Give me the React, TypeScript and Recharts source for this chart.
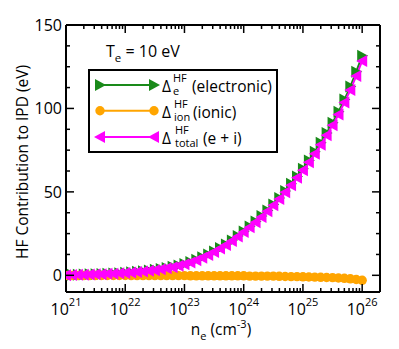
import { Legend, Line, LineChart, XAxis, YAxis } from 'recharts'

// log10 of electron density (cm^-3), one point every 0.1 decade
const logNe = [
  21.0, 21.1, 21.2, 21.3, 21.4, 21.5, 21.6, 21.7, 21.8, 21.9,
  22.0, 22.1, 22.2, 22.3, 22.4, 22.5, 22.6, 22.7, 22.8, 22.9,
  23.0, 23.1, 23.2, 23.3, 23.4, 23.5, 23.6, 23.7, 23.8, 23.9,
  24.0, 24.1, 24.2, 24.3, 24.4, 24.5, 24.6, 24.7, 24.8, 24.9,
  25.0, 25.1, 25.2, 25.3, 25.4, 25.5, 25.6, 25.7, 25.8, 25.9,
  26.0,
]

const electronic = [
  0.2, 0.3, 0.4, 0.5, 0.6, 0.7, 0.8, 1.0, 1.1, 1.3,
  1.5, 1.9, 2.2, 2.5, 2.9, 3.3, 3.8, 4.4, 5.1, 5.9,
  6.8, 8.0, 9.3, 10.8, 12.5, 14.3, 16.3, 18.5, 20.9, 23.5,
  26.3, 29.3, 32.3, 35.5, 38.9, 42.5, 46.4, 50.5, 54.8, 59.2,
  63.9, 68.8, 74.0, 79.5, 85.3, 91.4, 98.0, 105.3, 113.1, 122.0,
  131.5,
]

const ionic = [
  -0.1, -0.1, -0.1, -0.1, -0.1, -0.1, -0.1, -0.1, -0.1, -0.1,
  -0.1, -0.2, -0.2, -0.2, -0.2, -0.2, -0.2, -0.2, -0.2, -0.2,
  -0.2, -0.3, -0.3, -0.3, -0.3, -0.3, -0.3, -0.3, -0.3, -0.3,
  -0.3, -0.5, -0.5, -0.5, -0.5, -0.5, -0.6, -0.7, -0.8, -0.8,
  -0.9, -1.0, -1.1, -1.2, -1.3, -1.4, -1.6, -1.8, -2.1, -2.5,
  -3.0,
]

const total = [
  0.1, 0.2, 0.3, 0.4, 0.5, 0.6, 0.7, 0.9, 1.0, 1.2,
  1.4, 1.7, 2.0, 2.3, 2.7, 3.1, 3.6, 4.2, 4.9, 5.7,
  6.6, 7.7, 9.0, 10.5, 12.2, 14.0, 16.0, 18.2, 20.6, 23.2,
  26.0, 28.8, 31.8, 35.0, 38.4, 42.0, 45.8, 49.8, 54.0, 58.4,
  63.0, 67.8, 72.9, 78.3, 84.0, 90.0, 96.4, 103.5, 111.0, 119.5,
  128.5,
]

const xDecades = [21, 22, 23, 24, 25, 26]
const yMajor = [0, 50, 100, 150]
const yMinor = [12.5, 25, 37.5, 62.5, 75, 87.5, 112.5, 125, 137.5]

const GREEN = '#1a8a1a'
const ORANGE = '#ffa500'
const MAGENTA = '#ff00ff'
const FONT = '"Open Sans", sans-serif'

const data = logNe.map((p, i) => ({
  ne: Math.pow(10, p),
  e: electronic[i],
  ion: ionic[i],
  tot: total[i],
}))

const xMajor = xDecades.map((d) => Math.pow(10, d))
const xMinor = xDecades
  .slice(0, -1)
  .flatMap((d) => [2, 3, 4, 5, 6, 7, 8, 9].map((k) => k * Math.pow(10, d)))
const xTicks = [...xMajor, ...xMinor].sort((a, b) => a - b)
const yTicks = [...yMajor, ...yMinor].sort((a, b) => a - b)

const isMajorX = (v: number) => xMajor.some((m) => Math.abs(v - m) < m * 1e-6)

const MAJOR = 8
const MINOR = 4

function BottomTick({ x, y, payload }: any) {
  const v = payload.value
  if (!isMajorX(v)) {
    return <line x1={x} x2={x} y1={y} y2={y - MINOR} stroke="#000" strokeWidth={1.5} />
  }
  const exp = Math.round(Math.log10(v))
  return (
    <g>
      <line x1={x} x2={x} y1={y} y2={y - MAJOR} stroke="#000" strokeWidth={1.5} />
      <text x={x} y={y + 23} textAnchor="middle" fontSize={16} fontFamily={FONT} fill="#000">
        10
        <tspan dy={-9} fontSize={11}>
          {exp}
        </tspan>
      </text>
    </g>
  )
}

function TopTick({ x, y, payload }: any) {
  const len = isMajorX(payload.value) ? MAJOR : MINOR
  return <line x1={x} x2={x} y1={y} y2={y + len} stroke="#000" strokeWidth={1.5} />
}

function LeftTick({ x, y, payload }: any) {
  const v = payload.value
  const major = yMajor.includes(v)
  return (
    <g>
      <line x1={x} x2={x + (major ? MAJOR : MINOR)} y1={y} y2={y} stroke="#000" strokeWidth={1.5} />
      {major && (
        <text x={x - 4} y={y + 6} textAnchor="end" fontSize={16} fontFamily={FONT} fill="#000">
          {v}
        </text>
      )}
    </g>
  )
}

function RightTick({ x, y, payload }: any) {
  const len = yMajor.includes(payload.value) ? MAJOR : MINOR
  return <line x1={x} x2={x - len} y1={y} y2={y} stroke="#000" strokeWidth={1.5} />
}

function Marker({ shape, cx, cy, color }: { shape: string; cx: number; cy: number; color: string }) {
  if (shape === 'circle') return <circle cx={cx} cy={cy} r={4.7} fill={color} />
  if (shape === 'right')
    return <polygon points={`${cx + 6},${cy} ${cx - 5},${cy - 6} ${cx - 5},${cy + 6}`} fill={color} />
  return <polygon points={`${cx - 6},${cy} ${cx + 5},${cy - 6} ${cx + 5},${cy + 6}`} fill={color} />
}

const dotFor = (shape: string, color: string) => (p: any) => (
  <Marker key={`${shape}-${p.index}`} shape={shape} cx={p.cx} cy={p.cy} color={color} />
)

const legendRows = [
  { y: 16, shape: 'right', color: GREEN, sub: 'e', subX: 85, desc: '(electronic)', descX: 104 },
  { y: 41.7, shape: 'circle', color: ORANGE, sub: 'ion', subX: 86, desc: '(ionic)', descX: 105 },
  { y: 68, shape: 'left', color: MAGENTA, sub: 'total', subX: 87, desc: '(e + i)', descX: 115 },
]

function LegendBox() {
  return (
    <svg width={190} height={84} style={{ display: 'block', fontFamily: FONT }}>
      <rect x={1} y={1} width={188} height={82} fill="#fff" stroke="#000" strokeWidth={2} />
      {legendRows.map((r) => (
        <g key={r.sub}>
          <line x1={12} x2={66} y1={r.y} y2={r.y} stroke={r.color} strokeWidth={2} />
          <Marker shape={r.shape} cx={12} cy={r.y} color={r.color} />
          <Marker shape={r.shape} cx={66} cy={r.y} color={r.color} />
          <text x={74} y={r.y + 7} fontSize={15.5} fill="#000">
            Δ
          </text>
          <text x={r.subX} y={r.y - 3} fontSize={11} fill="#000">
            HF
          </text>
          <text x={r.subX} y={r.y + 10} fontSize={11} fill="#000">
            {r.sub}
          </text>
          <text x={r.descX} y={r.y + 7} fontSize={15.5} fill="#000">
            {r.desc}
          </text>
        </g>
      ))}
    </svg>
  )
}

export default function App() {
  return (
    <div style={{ position: 'absolute', left: 0, top: 0, width: 399, height: 349, background: '#fff' }}>
      <LineChart width={399} height={349} data={data} margin={{ top: 24, right: 18, bottom: 56, left: 65 }}>
        <XAxis
          xAxisId="b"
          dataKey="ne"
          type="number"
          scale="log"
          domain={[1e21, 2e26]}
          allowDataOverflow
          ticks={xTicks}
          interval={0}
          height={1}
          tickSize={0}
          tickMargin={0}
          tickLine={false}
          axisLine={{ stroke: '#000', strokeWidth: 2 }}
          tick={BottomTick}
        />
        <XAxis
          xAxisId="t"
          orientation="top"
          dataKey="ne"
          type="number"
          scale="log"
          domain={[1e21, 2e26]}
          allowDataOverflow
          ticks={xTicks}
          interval={0}
          height={1}
          tickSize={0}
          tickMargin={0}
          tickLine={false}
          axisLine={{ stroke: '#000', strokeWidth: 2 }}
          tick={TopTick}
        />
        <YAxis
          yAxisId="l"
          type="number"
          domain={[-10, 150]}
          allowDataOverflow
          ticks={yTicks}
          interval={0}
          width={1}
          tickSize={0}
          tickMargin={0}
          tickLine={false}
          axisLine={{ stroke: '#000', strokeWidth: 2 }}
          tick={LeftTick}
        />
        <YAxis
          yAxisId="r"
          orientation="right"
          type="number"
          domain={[-10, 150]}
          allowDataOverflow
          ticks={yTicks}
          interval={0}
          width={1}
          tickSize={0}
          tickMargin={0}
          tickLine={false}
          axisLine={{ stroke: '#000', strokeWidth: 2 }}
          tick={RightTick}
        />
        <Line
          xAxisId="b"
          yAxisId="l"
          dataKey="e"
          stroke={GREEN}
          strokeWidth={2}
          dot={dotFor('right', GREEN)}
          isAnimationActive={false}
        />
        <Line
          xAxisId="b"
          yAxisId="l"
          dataKey="ion"
          stroke={ORANGE}
          strokeWidth={2}
          dot={dotFor('circle', ORANGE)}
          isAnimationActive={false}
        />
        <Line
          xAxisId="b"
          yAxisId="l"
          dataKey="tot"
          stroke={MAGENTA}
          strokeWidth={2}
          dot={dotFor('left', MAGENTA)}
          isAnimationActive={false}
        />
        <Legend
          layout="vertical"
          align="center"
          verticalAlign="middle"
          wrapperStyle={{ left: 88, top: 69, width: 190, height: 84 }}
          content={() => <LegendBox />}
        />
      </LineChart>
      <svg
        width={399}
        height={349}
        style={{ position: 'absolute', left: 0, top: 0, pointerEvents: 'none', fontFamily: FONT }}
      >
        <text x={106} y={57} fontSize={16} fill="#000">
          T
          <tspan dy={5} fontSize={11.5}>
            e
          </tspan>
          <tspan dy={-5}> = 10 eV</tspan>
        </text>
        <text x={221} y={335} textAnchor="middle" fontSize={15.5} fill="#000">
          n
          <tspan dy={5} fontSize={11}>
            e
          </tspan>
          <tspan dy={-5}> (cm</tspan>
          <tspan dy={-7} fontSize={11}>
            -3
          </tspan>
          <tspan dy={7}>)</tspan>
        </text>
        <text
          x={22}
          y={162}
          transform="rotate(-90 22 162)"
          textAnchor="middle"
          dominantBaseline="central"
          fontSize={15.5}
          fill="#000"
        >
          HF Contribution to IPD (eV)
        </text>
      </svg>
    </div>
  )
}
